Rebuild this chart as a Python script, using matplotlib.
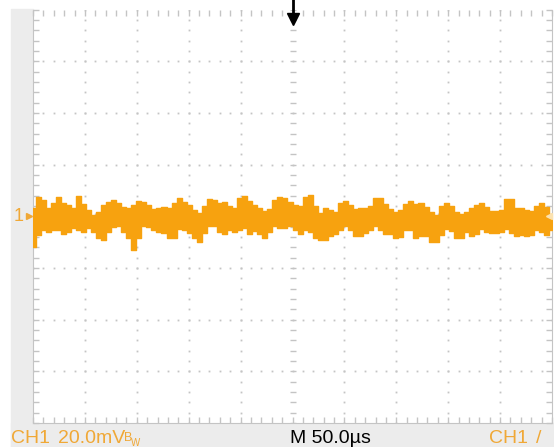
"""Scope capture: CH1 noise floor, 20 mV/div, 50 us/div."""
import matplotlib
matplotlib.use("Agg")
import matplotlib.pyplot as plt
import numpy as np
from matplotlib.patches import Rectangle

# scope settings
volts_div = 20.0      # mV/div
time_div = 50.0       # us/div
n_xdiv, n_ydiv = 10, 8
n_sub = 5             # graticule dots per division
trig_time = 0.0
ch1_ground = 0.0

# CH1 trace envelope (mV), one column per ~4.8 us, read left to right
trace_hi = [3.1, 7.3, 6.2, 3.1, 5.0, 7.3, 5.0, 4.3, 3.1, 7.7,
            4.6, 2.3, 0.4, 1.5, 4.3, 5.4, 6.2, 5.0, 3.5, 3.1,
            4.3, 5.8, 5.4, 4.3, 2.7, 3.1, 3.5, 3.1, 5.0, 7.0,
            5.4, 4.3, 2.3, 1.2, 3.9, 6.6, 6.2, 5.0, 5.4, 3.9,
            3.1, 7.0, 7.7, 5.8, 4.3, 3.1, 1.9, 2.7, 6.2, 7.3,
            7.0, 5.4, 4.3, 3.9, 7.3, 8.1, 3.9, 1.2, 3.1, 2.3,
            1.5, 5.0, 5.8, 4.3, 2.7, 3.1, 3.1, 3.9, 7.0, 7.0,
            4.6, 2.7, 1.5, 2.3, 4.6, 5.8, 4.6, 5.0, 3.5, 1.5,
            0.4, 3.9, 5.0, 3.9, 1.5, 0.8, 1.5, 3.1, 4.3, 5.0,
            3.5, 1.9, 1.9, 2.3, 6.6, 6.6, 3.1, 3.1, 2.3, 1.9,
            3.9, 5.0, 3.5, 0.8]
trace_lo = [-12.0, -7.3, -5.4, -6.2, -5.4, -5.4, -7.0, -6.2, -4.6, -5.4,
            -6.2, -4.6, -6.2, -8.5, -9.3, -6.2, -4.3, -3.9, -6.2, -8.5,
            -13.2, -8.5, -3.9, -4.3, -5.4, -6.2, -6.6, -8.5, -8.5, -5.0,
            -5.4, -6.6, -8.5, -10.1, -6.6, -3.9, -3.9, -6.2, -7.0, -5.4,
            -6.2, -5.4, -4.6, -7.0, -5.8, -7.0, -8.5, -6.2, -3.9, -4.6,
            -4.6, -3.9, -5.4, -7.0, -5.4, -6.2, -8.5, -9.3, -9.3, -7.7,
            -7.0, -5.4, -3.9, -5.4, -7.7, -7.7, -6.6, -5.4, -3.9, -5.4,
            -7.0, -7.0, -8.5, -8.1, -5.4, -5.4, -8.5, -7.7, -7.7, -10.1,
            -10.1, -7.3, -5.0, -5.8, -8.5, -8.5, -6.2, -7.7, -7.0, -5.0,
            -6.2, -6.6, -6.6, -6.2, -5.0, -6.6, -7.7, -7.3, -7.7, -7.3,
            -5.4, -6.2, -7.3, -5.4]

W, H = 554, 447
ORANGE = "#f7a20f"
TXT_OR = "#f0a836"
GRID = "#c4c4c4"
PANEL = "#ececec"
FONT = ["Liberation Sans", "DejaVu Sans"]

fig = plt.figure(figsize=(W / 100, H / 100), dpi=100, facecolor="white")
# grey frame strips (left and bottom), kept under everything
fig.patches.append(Rectangle((11 / W, 0), 22 / W, (H - 9) / H,
                             transform=fig.transFigure, color=PANEL, zorder=-5))
fig.patches.append(Rectangle((11 / W, 0), (W - 11) / W, 24 / H,
                             transform=fig.transFigure, color=PANEL, zorder=-5))

ax = fig.add_axes([33 / W, 24 / H, 519 / W, 413.5 / H])
xmax = n_xdiv / 2 * time_div
ymax = n_ydiv / 2 * volts_div
ax.set_xlim(-xmax, xmax)
ax.set_ylim(-ymax, ymax)
ax.set_facecolor("white")

# graticule: dotted division lines
xs_major = np.arange(-xmax + time_div, xmax, time_div)
ys_major = np.arange(-ymax + volts_div, ymax, volts_div)
xs_minor = np.arange(-xmax, xmax + 1e-9, time_div / n_sub)
ys_minor = np.arange(-ymax, ymax + 1e-9, volts_div / n_sub)
for xv in xs_major:
    if xv == 0:
        continue
    ax.plot(np.full_like(ys_minor, xv), ys_minor, ls="none", marker="s",
            ms=1.3, mec="none", color=GRID, zorder=1)
for yv in ys_major:
    if yv == 0:
        continue
    ax.plot(xs_minor, np.full_like(xs_minor, yv), ls="none", marker="s",
            ms=1.3, mec="none", color=GRID, zorder=1)
# centre cross with small tick marks
ax.plot(np.zeros_like(ys_minor), ys_minor, ls="none", marker="_", ms=5,
        mew=1, color=GRID, zorder=1)
ax.plot(xs_minor, np.zeros_like(xs_minor), ls="none", marker="|", ms=5,
        mew=1, color=GRID, zorder=1)

# border ticks
ax.set_xticks(xs_minor)
ax.set_yticks(ys_minor)
ax.tick_params(which="both", direction="in", length=4, width=1, color=GRID,
               top=True, right=True, labelbottom=False, labelleft=False)
for s in ["left", "bottom", "right"]:
    ax.spines[s].set_color(GRID)
ax.spines["top"].set_visible(False)

# CH1 trace
t = np.linspace(-xmax, xmax, len(trace_hi))
ax.fill_between(t, trace_lo, trace_hi, step="mid", color=ORANGE, lw=1.0,
                edgecolor=ORANGE, zorder=3)

# trigger position arrow
ax.plot([trig_time, trig_time], [ymax * 0.955, ymax * 1.05], color="black",
        lw=2, clip_on=False, zorder=5)
ax.plot([trig_time], [ymax * 0.955], marker="v", ms=9, color="black",
        clip_on=False, zorder=5)

# channel ground marker and trigger level marker
ax.text(-xmax - 14, ch1_ground, "1", color=TXT_OR, fontsize=13, family=FONT,
        ha="center", va="center", clip_on=False, zorder=6)
ax.plot([-xmax - 4], [ch1_ground], marker=">", ms=5, color=TXT_OR,
        clip_on=False, zorder=6)
ax.plot([xmax - 3], [ch1_ground], marker="<", ms=4, color="#fbe2b0",
        clip_on=False, zorder=5)

# status line
fig.text(11 / W, 4 / H, "CH1", color=TXT_OR, fontsize=14, family=FONT, va="baseline")
fig.text(58 / W, 4 / H, "20.0mV", color=TXT_OR, fontsize=14, family=FONT, va="baseline")
fig.text(124 / W, 6 / H, "B", color=TXT_OR, fontsize=9, family=FONT, va="baseline")
fig.text(131 / W, 1 / H, "W", color=TXT_OR, fontsize=7, family=FONT, va="baseline")
fig.text(290 / W, 4 / H, "M 50.0\u00b5s", color="black", fontsize=14, family=FONT,
         va="baseline")
fig.text(489 / W, 4 / H, "CH1", color=TXT_OR, fontsize=14, family=FONT, va="baseline")
fig.text(536 / W, 4 / H, "/", color=TXT_OR, fontsize=14, family=FONT, va="baseline")

fig.savefig("out.png", dpi=100, facecolor="white")
print("saved out.png")
